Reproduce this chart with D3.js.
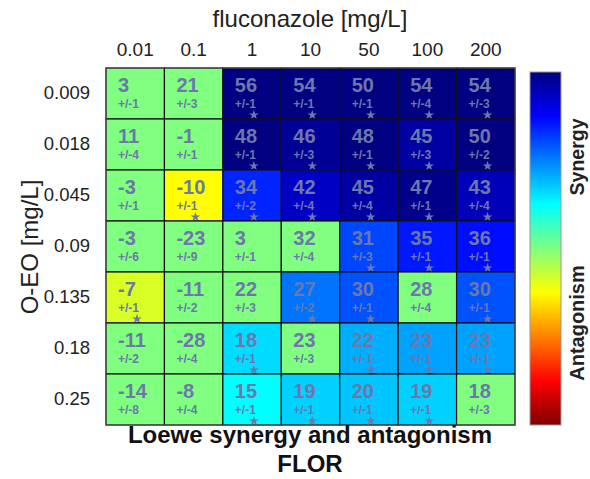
<!DOCTYPE html>
<html>
<head>
<meta charset="utf-8">
<script src="https://cdn.jsdelivr.net/npm/d3@7"></script>
<style>
  body { margin: 0; background: #fff; }
  text { font-family: "Liberation Sans", Arial, sans-serif; }
</style>
</head>
<body>
<svg id="chart" width="590" height="479"></svg>
<script>
// fluconazole doses (columns) and O-EO doses (rows)
const flcDoses = ['0.01', '0.1', '1', '10', '50', '100', '200'];
const oeoDoses = ['0.009', '0.018', '0.045', '0.09', '0.135', '0.18', '0.25'];

// Loewe synergy (%) per row
const synergy = [
  [3, 21, 56, 54, 50, 54, 54],
  [11, -1, 48, 46, 48, 45, 50],
  [-3, -10, 34, 42, 45, 47, 43],
  [-3, -23, 3, 32, 31, 35, 36],
  [-7, -11, 22, 27, 30, 28, 30],
  [-11, -28, 18, 23, 22, 23, 23],
  [-14, -8, 15, 19, 20, 19, 18]
];
// +/- errors
const errors = [
  [1, 3, 1, 1, 1, 4, 3],
  [4, 1, 1, 3, 1, 3, 2],
  [1, 1, 2, 4, 4, 1, 4],
  [6, 9, 1, 4, 3, 1, 1],
  [1, 2, 3, 2, 1, 4, 1],
  [2, 4, 1, 3, 1, 1, 1],
  [8, 4, 1, 1, 1, 1, 3]
];
// 1 = significant (star)
const significant = [
  [0, 0, 1, 1, 1, 1, 1],
  [0, 0, 1, 1, 1, 1, 1],
  [0, 1, 1, 1, 1, 1, 1],
  [0, 0, 0, 0, 1, 1, 1],
  [1, 0, 0, 1, 1, 0, 1],
  [0, 0, 1, 0, 1, 1, 1],
  [0, 0, 1, 1, 1, 1, 0]
];

const svg = d3.select('#chart');
const textColor = '#6c77ab';

// matlab style jet colormap, t in [0,1], 0 = dark blue
function jet(t) {
  const c = v => Math.round(255 * Math.max(0, Math.min(1, v)));
  return `rgb(${c(1.5 - Math.abs(4 * t - 3))},${c(1.5 - Math.abs(4 * t - 2))},${c(1.5 - Math.abs(4 * t - 1))})`;
}

const x = d3.scaleBand().domain(flcDoses).range([106, 515]);
const y = d3.scaleBand().domain(oeoDoses).range([68, 425]);
const colorPos = d3.scaleLinear().domain([-10, 0, 15, 48]).range([0.625, 0.5, 0.375, 0]).clamp(true);

const cells = [];
oeoDoses.forEach((row, i) => {
  flcDoses.forEach((col, j) => {
    cells.push({row, col, value: synergy[i][j], err: errors[i][j], sig: significant[i][j]});
  });
});

const g = svg.append('g');
const cell = g.selectAll('g.cell')
  .data(cells)
  .enter()
  .append('g')
    .attr('class', 'cell')
    .attr('transform', d => `translate(${x(d.col)},${y(d.row)})`);

cell.append('rect')
  .attr('width', x.bandwidth())
  .attr('height', y.bandwidth())
  .attr('fill', d => jet(d.sig ? colorPos(d.value) : 0.5))
  .attr('stroke', '#111')
  .attr('stroke-width', 1.2);

cell.append('text')
  .attr('x', 12)
  .attr('y', 24)
  .attr('font-size', 20)
  .attr('font-weight', 'bold')
  .attr('fill', textColor)
  .text(d => d.value);

cell.append('text')
  .attr('x', 12)
  .attr('y', 39.5)
  .attr('font-size', 12)
  .attr('font-weight', 'bold')
  .attr('fill', textColor)
  .text(d => `+/-${d.err}`);

cell.filter(d => d.sig)
  .append('path')
  .attr('d', d3.symbol(d3.symbolStar, 30))
  .attr('transform', 'translate(31,47)')
  .attr('fill', textColor);

// outer frame
g.append('rect')
  .attr('x', 106).attr('y', 68)
  .attr('width', 409).attr('height', 357)
  .attr('fill', 'none')
  .attr('stroke', '#555')
  .attr('stroke-width', 1);

// axes
const topAxis = svg.append('g')
  .attr('transform', 'translate(0,68)')
  .call(d3.axisTop(x).tickSize(0).tickPadding(12));
topAxis.select('.domain').remove();
topAxis.selectAll('text').attr('font-size', 19).attr('fill', '#222')
  .style('font-family', '"Liberation Sans", Arial, sans-serif');

const leftAxis = svg.append('g')
  .attr('transform', 'translate(106,0)')
  .call(d3.axisLeft(y).tickSize(0).tickPadding(16));
leftAxis.select('.domain').remove();
leftAxis.selectAll('text').attr('font-size', 18.5).attr('fill', '#222')
  .style('font-family', '"Liberation Sans", Arial, sans-serif');

svg.append('text')
  .attr('x', 310).attr('y', 27)
  .attr('text-anchor', 'middle')
  .attr('font-size', 24)
  .attr('fill', '#222')
  .text('fluconazole [mg/L]');

svg.append('text')
  .attr('transform', 'translate(38,247) rotate(-90)')
  .attr('text-anchor', 'middle')
  .attr('font-size', 24)
  .attr('fill', '#222')
  .text('O-EO [mg/L]');

svg.append('text')
  .attr('x', 310).attr('y', 443)
  .attr('text-anchor', 'middle')
  .attr('font-size', 24)
  .attr('font-weight', 'bold')
  .attr('fill', '#111')
  .text('Loewe synergy and antagonism');

svg.append('text')
  .attr('x', 310).attr('y', 472)
  .attr('text-anchor', 'middle')
  .attr('font-size', 24)
  .attr('font-weight', 'bold')
  .attr('fill', '#111')
  .text('FLOR');

// colorbar
const grad = svg.append('defs').append('linearGradient')
  .attr('id', 'jet')
  .attr('x1', 0).attr('y1', 0).attr('x2', 0).attr('y2', 1);
grad.selectAll('stop')
  .data(d3.range(0, 1.0001, 0.0625))
  .enter()
  .append('stop')
    .attr('offset', d => d)
    .attr('stop-color', d => jet(d));

svg.append('rect')
  .attr('x', 530).attr('y', 72)
  .attr('width', 31).attr('height', 353)
  .attr('fill', 'url(#jet)')
  .attr('stroke', '#999')
  .attr('stroke-width', 1);

svg.append('text')
  .attr('transform', 'translate(584,157) rotate(-90)')
  .attr('text-anchor', 'middle')
  .attr('font-size', 19.5)
  .attr('font-weight', 'bold')
  .attr('fill', '#222')
  .text('Synergy');

svg.append('text')
  .attr('transform', 'translate(584,323) rotate(-90)')
  .attr('text-anchor', 'middle')
  .attr('font-size', 20)
  .attr('font-weight', 'bold')
  .attr('fill', '#222')
  .text('Antagonism');
</script>
</body>
</html>
